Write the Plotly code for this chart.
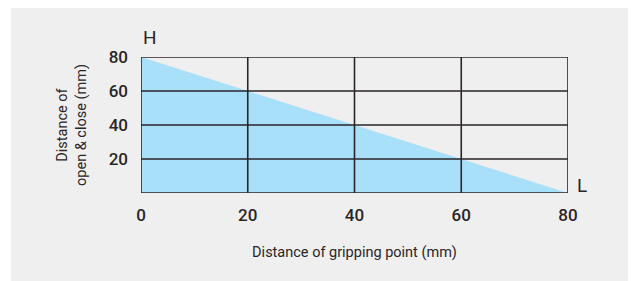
import plotly.graph_objects as go

# Data
grip_distance = [0, 20, 40, 60, 80]          # mm (x)
open_close = [80, 60, 40, 20, 0]             # mm (y)
x_ticks = [0, 20, 40, 60, 80]
y_ticks = [20, 40, 60, 80]
x_title = "Distance of gripping point (mm)"
y_title = "Distance of<br>open & close (mm)"

FILL = "#a9e0f9"
BG = "#efefef"
GRID = "#2a2526"
TXT = "#2a2526"

fig = go.Figure()
fig.add_trace(go.Scatter(
    x=grip_distance, y=open_close, mode="none",
    fill="tozeroy", fillcolor=FILL, hoverinfo="skip", showlegend=False,
))

# page body adds an 8px offset, so the figure is 628x273
W, H = 628, 273
ml, mr, mt, mb = 133, 68, 49, 88
pw, ph = W - ml - mr, H - mt - mb
def px2x(px):
    return (px - ml) / pw
def py2y(py):
    return (H - mb - py) / ph

shapes = [dict(type="rect", xref="paper", yref="paper",
               x0=px2x(3), x1=px2x(W + 2), y0=py2y(0), y1=py2y(H + 2),
               fillcolor=BG, line=dict(width=0), layer="below")]
# grid lines above fill
for v in x_ticks:
    shapes.append(dict(type="line", xref="x", yref="y", x0=v, x1=v,
                       y0=0, y1=max(y_ticks), line=dict(color=GRID, width=1.6),
                       layer="above"))
for v in [0] + y_ticks:
    shapes.append(dict(type="line", xref="x", yref="y", x0=min(x_ticks), x1=max(x_ticks),
                       y0=v, y1=v, line=dict(color=GRID, width=1.6), layer="above"))

tickfont = dict(family="Roboto", size=17, color=TXT, weight=500)
titlefont = dict(family="Roboto", size=14.5, color=TXT)

fig.update_layout(
    width=W, height=H,
    margin=dict(l=ml, r=mr, t=mt, b=mb, pad=0),
    paper_bgcolor="white", plot_bgcolor="rgba(0,0,0,0)",
    shapes=shapes,
    xaxis=dict(range=[0, 80], tickvals=x_ticks, showgrid=False, zeroline=False,
               showline=False, ticks="", tickfont=tickfont, ticklabelstandoff=10,
               title=dict(text=x_title, font=titlefont, standoff=22)),
    yaxis=dict(range=[0, 80], tickvals=y_ticks, showgrid=False, zeroline=False,
               showline=False, ticks="", tickfont=tickfont, ticklabelstandoff=12,
               title=dict(text=y_title, font=titlefont, standoff=18)),
    annotations=[
        dict(text="H", x=0, y=80, xref="x", yref="y", xanchor="left", yanchor="bottom",
             yshift=6, showarrow=False, font=dict(family="Roboto", size=19, color=TXT)),
        dict(text="L", x=80, y=0, xref="x", yref="y", xanchor="left", yanchor="bottom",
             xshift=7, yshift=-6, showarrow=False, font=dict(family="Roboto", size=19, color=TXT)),
    ],
)

fig.write_html("out.html")
